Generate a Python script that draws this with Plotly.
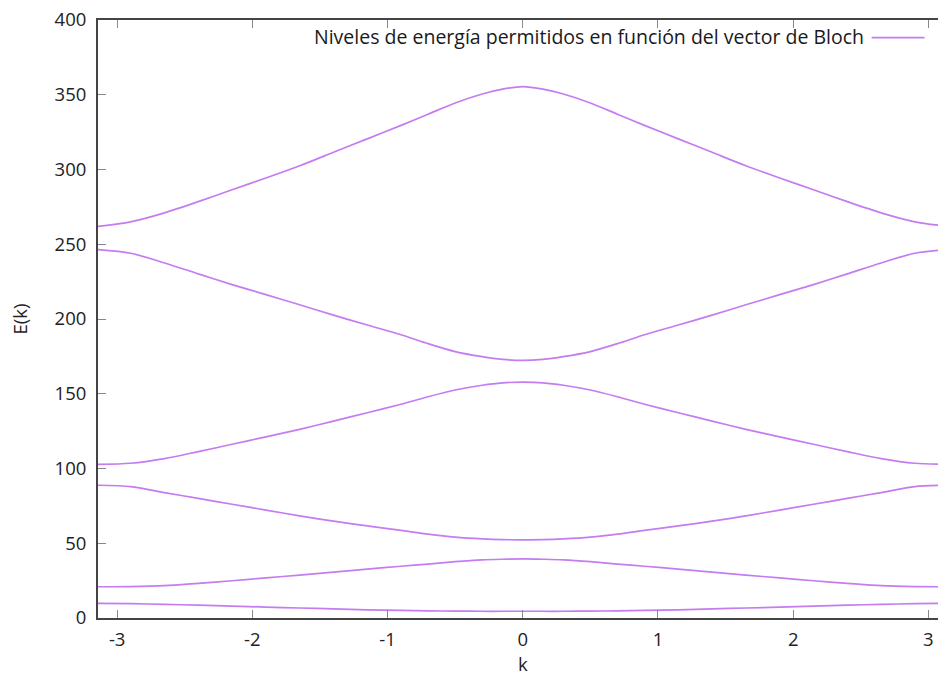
import plotly.graph_objects as go

# k values (Bloch vector)
k = [-3.1416, -2.90, -2.65, -2.40, -2.15, -1.90, -1.65, -1.40, -1.15, -0.90, -0.70, -0.50, -0.30, -0.15, 0.0,
     0.15, 0.30, 0.50, 0.70, 0.90, 1.15, 1.40, 1.65, 1.90, 2.15, 2.40, 2.65, 2.90, 3.1416]

band1 = [9.8, 9.6, 9.1, 8.6, 8.0, 7.3, 6.7, 6.1, 5.5, 5.1, 4.8, 4.6, 4.5, 4.5, 4.5,
         4.5, 4.5, 4.6, 4.8, 5.1, 5.5, 6.1, 6.7, 7.3, 8.0, 8.6, 9.1, 9.6, 9.8]
band2 = [20.9, 21.0, 21.6, 23.2, 24.9, 26.8, 28.7, 30.7, 32.7, 34.6, 36.1, 37.7, 38.9, 39.3, 39.5,
         39.3, 38.9, 37.7, 36.1, 34.6, 32.7, 30.7, 28.7, 26.8, 24.9, 23.2, 21.6, 21.0, 20.9]
band3 = [88.8, 87.9, 83.9, 80.0, 76.1, 72.2, 68.3, 64.8, 61.6, 58.6, 56.1, 54.1, 52.9, 52.4, 52.3,
         52.4, 52.9, 54.1, 56.1, 58.6, 61.6, 64.8, 68.3, 72.2, 76.1, 80.0, 83.9, 87.9, 88.8]
band4 = [102.8, 103.5, 106.6, 111.3, 116.2, 121.2, 126.2, 131.7, 137.3, 143.0, 148.0, 152.5, 155.7, 157.3, 157.8,
         157.3, 155.7, 152.5, 148.0, 143.0, 137.3, 131.7, 126.2, 121.2, 116.2, 111.3, 106.6, 103.5, 102.8]
band5 = [246.4, 244.0, 237.5, 230.2, 223.0, 216.3, 209.5, 202.6, 196.0, 189.5, 183.5, 178.2, 174.8, 173.0, 172.3,
         173.0, 174.8, 178.2, 183.5, 189.5, 196.0, 202.6, 209.5, 216.3, 223.0, 230.2, 237.5, 244.0, 246.4]
band6 = [262.0, 265.0, 271.0, 278.5, 286.5, 294.3, 302.5, 311.5, 320.5, 329.5, 337.0, 344.5, 350.5, 353.8, 355.5,
         353.8, 350.5, 344.5, 337.0, 329.5, 320.5, 311.5, 302.5, 294.3, 286.5, 278.5, 271.0, 265.0, 262.0]
bands = [band1, band2, band3, band4, band5, band6]

x_ticks = [-3, -2, -1, 0, 1, 2, 3]
x_ticklabels = ["-3", "-2", "-1", "0", "1", "2", "3"]
y_ticks = [0, 50, 100, 150, 200, 250, 300, 350, 400]
y_ticklabels = ["0", "50", "100", "150", "200", "250", "300", "350", "400"]

legend_text = "Niveles de energía permitidos en función del vector de Bloch"
x_title = "k"
y_title = "E(k)"
line_color = "#c47cf0"
font_family = "Open Sans, Liberation Sans, Arial, sans-serif"
fsize = 18.5

fig = go.Figure()
for b in bands:
    fig.add_trace(go.Scatter(x=k, y=b, mode="lines",
                             line=dict(color=line_color, width=1.7, shape="spline", smoothing=0.8),
                             showlegend=False, hoverinfo="skip"))

fig.update_layout(
    width=938, height=675,
    margin=dict(l=98, r=0, t=20, b=57),
    paper_bgcolor="white", plot_bgcolor="white",
    font=dict(family=font_family, size=fsize, color="#222222"),
    showlegend=False,
    xaxis=dict(range=[-3.1416, 3.071], tickvals=x_ticks, ticktext=x_ticklabels,
               ticks="inside", ticklen=8, tickwidth=1.2, tickcolor="#888",
               showline=True, linecolor="#444", linewidth=2, mirror="ticks",
               showgrid=False, zeroline=False, ticklabelstandoff=4, automargin=False),
    yaxis=dict(range=[0, 400], tickvals=y_ticks, ticktext=y_ticklabels,
               ticks="inside", ticklen=8, tickwidth=1.2, tickcolor="#888",
               showline=True, linecolor="#444", linewidth=2, automargin=False,
               showgrid=False, zeroline=False, ticklabelstandoff=6,
               title=dict(text=y_title, font=dict(size=fsize), standoff=22)),
)

# x-axis title placed like gnuplot (centred on k = 0)
fig.add_annotation(xref="x", yref="paper", x=0, y=-0.0755,
                   xanchor="center", yanchor="middle", showarrow=False, borderpad=0,
                   text=x_title, font=dict(size=fsize, color="#222222"))

# legend key (text followed by line sample, gnuplot style)
fig.add_annotation(xref="paper", yref="paper", x=0.914, y=0.972,
                   xanchor="right", yanchor="middle", showarrow=False,
                   text=legend_text, font=dict(size=19.5, color="#1a1a1a"))
fig.add_shape(type="line", xref="paper", yref="paper",
              x0=0.921, x1=0.984, y0=0.9705, y1=0.9705,
              line=dict(color=line_color, width=1.7))

fig.write_html("out.html")
